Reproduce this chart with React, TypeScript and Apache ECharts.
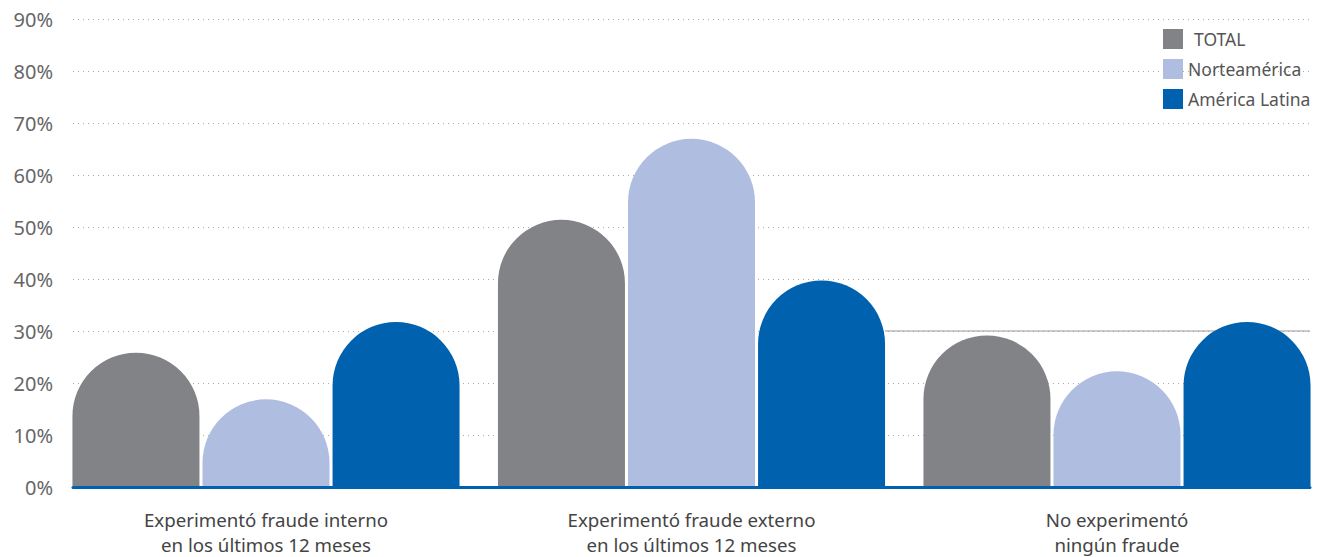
import React, { useEffect, useRef } from "react";
import * as echarts from "echarts";

const categories = [
  "Experimentó fraude interno\nen los últimos 12 meses",
  "Experimentó fraude externo\nen los últimos 12 meses",
  "No experimentó\nningún fraude",
];
const seriesNames = ["TOTAL", "Norteamérica", "América Latina"];
const totalValues = [25.7, 51.3, 29.0];
const norteValues = [16.7, 66.9, 22.1];
const latinValues = [31.6, 39.6, 31.6];
const yTicks = [0, 10, 20, 30, 40, 50, 60, 70, 80, 90];
const refLineValue = 30;

const colors = ["#828387", "#AFBDE1", "#0062AF"];
const FONT = "'Noto Sans', sans-serif";
const BAR_W = 127;

export default function App() {
  const ref = useRef<HTMLDivElement>(null);
  useEffect(() => {
    if (!ref.current) return;
    const chart = echarts.init(ref.current, null, { renderer: "svg" });
    const valuesList = [totalValues, norteValues, latinValues];
    const option: any = {
      animation: false,
      textStyle: { fontFamily: FONT },
      legend: {
        orient: "vertical",
        left: 1158,
        top: 24,
        itemWidth: 20,
        itemHeight: 20,
        itemGap: 10,
        icon: "rect",
        data: seriesNames,
        formatter: (n: string) => (n === "TOTAL" ? "{t|TOTAL}" : n),
        textStyle: {
          fontSize: 17.5,
          color: "#555",
          fontFamily: FONT,
          rich: { t: { fontSize: 17.5, color: "#555", fontFamily: FONT, padding: [0, 0, 0, 6] } },
        },
      },
      grid: [
        { left: 73, right: 13, top: 19, bottom: 70 },
        { left: 266, right: 206, top: 19, bottom: 70 },
      ],
      xAxis: [
        {
          type: "category",
          gridIndex: 0,
          data: categories,
          axisLine: { show: true, lineStyle: { color: "#0062AF", width: 3 } },
          axisTick: { show: false },
          axisLabel: { show: false },
          z: 5,
        },
        {
          type: "category",
          gridIndex: 1,
          data: categories,
          boundaryGap: false,
          axisLine: { show: false },
          axisTick: { show: false },
          splitLine: { show: false },
          axisLabel: {
            margin: 21,
            fontSize: 18.7,
            lineHeight: 25,
            color: "#444",
            fontFamily: FONT,
          },
        },
      ],
      yAxis: [
        {
          type: "value",
          gridIndex: 0,
          min: yTicks[0],
          max: yTicks[yTicks.length - 1],
          interval: 10,
          axisLine: { show: false },
          axisTick: { show: false },
          axisLabel: {
            formatter: "{value}%",
            margin: 20,
            fontSize: 20,
            color: "#666",
            fontFamily: FONT,
          },
          splitLine: { show: true, lineStyle: { color: "#aaa", type: [1, 4], width: 1 } },
        },
        {
          type: "value",
          gridIndex: 1,
          min: yTicks[0],
          max: yTicks[yTicks.length - 1],
          interval: 10,
          show: false,
          splitLine: { show: false },
        },
      ],
      series: seriesNames.map((name, i) => ({
        name,
        type: "bar",
        xAxisIndex: 1,
        yAxisIndex: 1,
        data: valuesList[i],
        barWidth: BAR_W,
        barGap: "2.4%",
        clip: false,
        itemStyle: { color: colors[i], borderRadius: [64, 64, 0, 0] },
        z: 2,
      })),
    };
    chart.setOption(option);
    const y = chart.convertToPixel({ yAxisIndex: 0 }, refLineValue) as number;
    const cx = chart.convertToPixel({ xAxisIndex: 1 }, categories[1]) as number;
    const xEnd = chart.convertToPixel({ xAxisIndex: 0 }, categories[2]) as number;
    const bandHalf = (xEnd - (chart.convertToPixel({ xAxisIndex: 0 }, categories[1]) as number)) / 2;
    chart.setOption({
      graphic: [
        {
          type: "line",
          shape: { x1: cx + 1.5 * BAR_W + 3, y1: y, x2: xEnd + bandHalf, y2: y },
          style: { stroke: "#999", lineWidth: 1.2 },
          z: 1,
        },
      ],
    });
    return () => chart.dispose();
  }, []);
  return (
    <div
      ref={ref}
      style={{ position: "fixed", left: 0, top: 0, width: 1323, height: 557, background: "#fff" }}
    />
  );
}
